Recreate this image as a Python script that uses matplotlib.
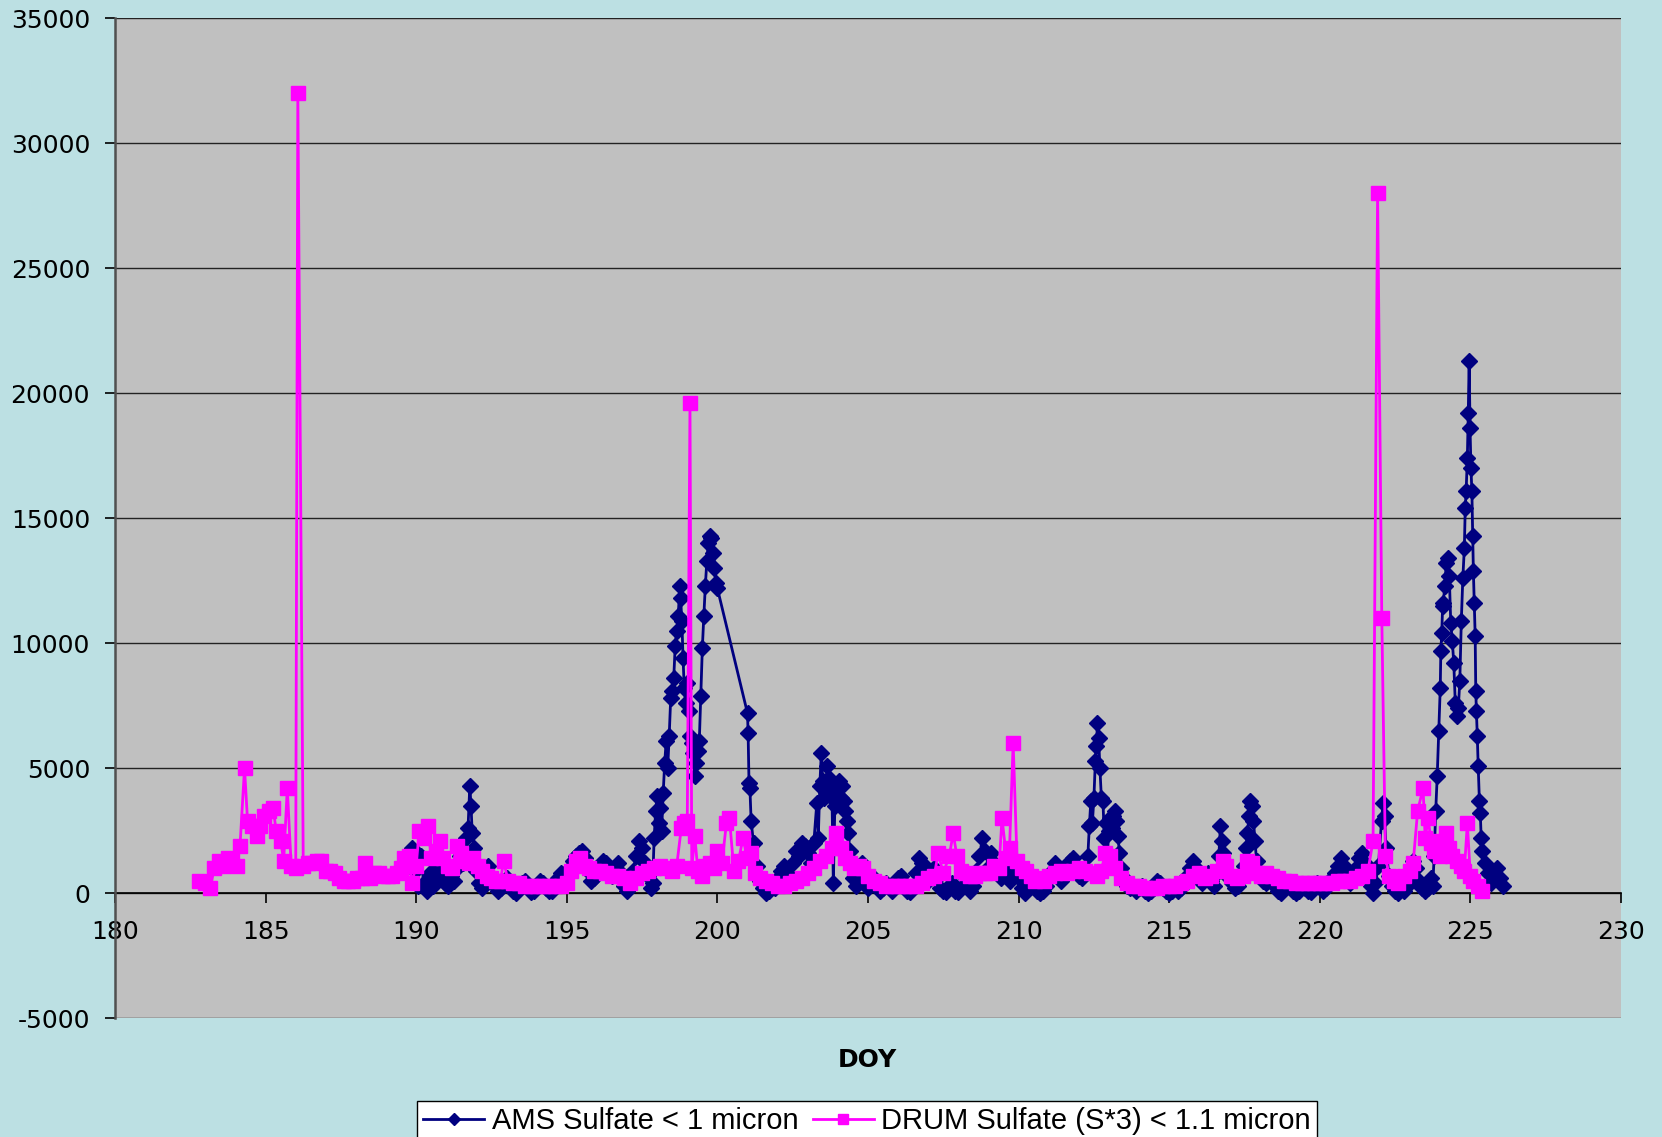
import matplotlib
matplotlib.use("Agg")
import matplotlib.pyplot as plt
from matplotlib import font_manager

# ---------------- data ----------------
ams_doy = [
    189.85, 189.95, 190.05, 190.15, 190.25, 190.35, 190.45, 190.55, 190.65, 190.75, 190.85, 190.95,
    191.05, 191.15, 191.25, 191.35, 191.45, 191.55, 191.65, 191.72, 191.78, 191.82, 191.86, 191.92,
    192.0, 192.1, 192.2, 192.3, 192.4, 192.5, 192.6, 192.7, 192.8, 192.9,
    193.0, 193.1, 193.2, 193.3, 193.4, 193.5, 193.6, 193.7, 193.8, 193.9,
    194.0, 194.1, 194.2, 194.3, 194.4, 194.5, 194.6, 194.7, 194.8, 194.9,
    195.0, 195.1, 195.2, 195.3, 195.4, 195.5, 195.6, 195.7, 195.8, 195.9,
    196.0, 196.1, 196.2, 196.3, 196.4, 196.5, 196.6, 196.7, 196.8, 196.9,
    197.0, 197.1, 197.2, 197.3, 197.4, 197.5, 197.6, 197.7, 197.8, 197.85, 197.9, 197.95,
    198.0, 198.05, 198.1, 198.15, 198.2, 198.25, 198.3, 198.35, 198.4, 198.45, 198.5, 198.55,
    198.6, 198.65, 198.7, 198.75, 198.78, 198.82, 198.86, 198.9, 198.95,
    199.0, 199.05, 199.1, 199.15, 199.2, 199.25, 199.3, 199.35, 199.4, 199.45, 199.5, 199.55,
    199.6, 199.65, 199.7, 199.75, 199.8, 199.85, 199.9, 199.95, 200.0,
    201.0, 201.02, 201.05, 201.08, 201.12, 201.2, 201.3, 201.4, 201.5, 201.6, 201.7, 201.8, 201.9,
    202.0, 202.1, 202.2, 202.3, 202.4, 202.5, 202.6, 202.7, 202.8, 202.9,
    203.0, 203.1, 203.2, 203.3, 203.35, 203.4, 203.45, 203.5, 203.55, 203.6, 203.65, 203.7,
    203.75, 203.8, 203.85, 203.9, 203.95, 204.0, 204.05, 204.1, 204.15, 204.2, 204.25, 204.3,
    204.35, 204.4, 204.45, 204.5, 204.6, 204.7, 204.8, 204.9,
    205.0, 205.1, 205.2, 205.3, 205.4, 205.5, 205.6, 205.7, 205.8, 205.9,
    206.0, 206.1, 206.2, 206.3, 206.4, 206.5, 206.6, 206.7, 206.8, 206.9,
    207.0, 207.1, 207.2, 207.3, 207.4, 207.5, 207.6, 207.7, 207.8, 207.9,
    208.0, 208.1, 208.2, 208.3, 208.4, 208.5, 208.6, 208.7, 208.8, 208.9,
    209.0, 209.1, 209.2, 209.3, 209.4, 209.5, 209.6, 209.7, 209.8, 209.9,
    210.0, 210.1, 210.2, 210.3, 210.4, 210.5, 210.6, 210.7, 210.8, 210.9,
    211.0, 211.1, 211.2, 211.3, 211.4, 211.5, 211.6, 211.7, 211.8, 211.9,
    212.0, 212.1, 212.2, 212.3, 212.35, 212.4, 212.45, 212.5, 212.55, 212.58, 212.62, 212.66,
    212.7, 212.75, 212.8, 212.85, 212.9, 212.95, 213.0, 213.05, 213.1, 213.15, 213.2, 213.25,
    213.3, 213.35, 213.4, 213.5, 213.6, 213.7, 213.8, 213.9,
    214.0, 214.1, 214.2, 214.3, 214.4, 214.5, 214.6, 214.7, 214.8, 214.9,
    215.0, 215.1, 215.2, 215.3, 215.4, 215.5, 215.6, 215.7, 215.8, 215.9,
    216.0, 216.1, 216.2, 216.3, 216.4, 216.5, 216.6, 216.65, 216.7, 216.75, 216.8, 216.9,
    217.0, 217.1, 217.2, 217.3, 217.4, 217.5, 217.55, 217.6, 217.65, 217.7, 217.75, 217.8,
    217.85, 217.9, 218.0, 218.1, 218.2, 218.3, 218.4, 218.5, 218.6, 218.7, 218.8, 218.9,
    219.0, 219.1, 219.2, 219.3, 219.4, 219.5, 219.6, 219.7, 219.8, 219.9,
    220.0, 220.1, 220.2, 220.3, 220.4, 220.5, 220.6, 220.7, 220.8, 220.9,
    221.0, 221.1, 221.2, 221.3, 221.4, 221.5, 221.6, 221.7, 221.78, 221.85, 221.95,
    222.05, 222.1, 222.15, 222.2, 222.3, 222.4, 222.5, 222.6, 222.7, 222.8, 222.9,
    223.0, 223.1, 223.2, 223.3, 223.4, 223.5, 223.6, 223.7, 223.75, 223.8, 223.85, 223.9, 223.95,
    224.0, 224.02, 224.05, 224.08, 224.1, 224.15, 224.2, 224.25, 224.3, 224.35, 224.4, 224.45,
    224.5, 224.55, 224.6, 224.65, 224.7, 224.75, 224.8, 224.83, 224.86, 224.9, 224.93, 224.96,
    224.99, 225.02, 225.05, 225.08, 225.1, 225.13, 225.16, 225.18, 225.2, 225.23, 225.26, 225.3,
    225.33, 225.36, 225.4, 225.5, 225.6, 225.7, 225.8, 225.9, 226.0, 226.1,
]
ams_val = [
    1800, 900, 300, 1500, 400, 100, 800, 300, 1200, 600, 900, 400,
    300, 700, 500, 1000, 1500, 1200, 2200, 2600, 4300, 3500, 2400, 1800,
    900, 400, 200, 800, 1100, 600, 300, 100, 200, 400,
    600, 300, 100, 0, 200, 400, 500, 200, 50, 100,
    300, 500, 400, 200, 100, 100, 300, 600, 800, 500,
    700, 1000, 1300, 1500, 1600, 1700, 1400, 900, 500, 600,
    900, 1100, 1300, 1200, 900, 700, 1000, 1200, 800, 300,
    100, 500, 900, 1500, 2100, 1800, 1200, 700, 200, 400, 2200, 3300,
    3900, 2800, 3400, 2500, 4000, 5200, 6100, 5000, 6300, 7800, 8100, 8600,
    9900, 10500, 11100, 12300, 11800, 10900, 9400, 8200, 7600,
    8400, 7300, 6300, 6000, 5600, 4700, 5200, 5700, 6100, 7900, 9800, 11100,
    12300, 13300, 14000, 14300, 14200, 13600, 13000, 12400, 12200,
    7200, 6400, 4400, 4200, 2900, 2000, 1100, 500, 200, 0, 100, 300, 200,
    600, 900, 1100, 800, 600, 1200, 1700, 1500, 2000, 1900,
    1600, 1200, 2000, 3600, 2200, 4300, 5600, 4500, 3800, 4200, 5100, 4600,
    3900, 4200, 400, 3500, 4000, 3600, 4500, 3800, 4300, 3700, 3300, 2900,
    2400, 1700, 1200, 600, 300, 800, 1200, 600,
    200, 400, 600, 300, 100, 200, 400, 300, 100, 300,
    600, 700, 400, 100, 50, 200, 800, 1400, 1200, 900,
    500, 700, 1000, 600, 200, 100, 50, 200, 400, 100,
    50, 200, 700, 400, 100, 300, 900, 1500, 2200, 1700,
    1000, 1600, 1200, 800, 600, 1000, 700, 500, 800, 1000,
    600, 200, 0, 200, 500, 300, 100, 0, 100, 300,
    600, 900, 1200, 900, 500, 700, 1100, 1300, 1400, 1000,
    700, 600, 900, 1500, 2700, 3700, 2800, 3800, 5300, 5900, 6800, 6200,
    5000, 3800, 3700, 2200, 2800, 1600, 2500, 3000, 2600, 3100, 3300, 2900,
    2300, 1600, 1000, 600, 300, 200, 300, 100,
    200, 300, 100, 0, 100, 200, 500, 400, 200, 100,
    0, 100, 300, 100, 200, 400, 700, 1000, 1300, 1000,
    700, 400, 600, 800, 500, 300, 800, 1500, 2700, 2100, 1600, 900,
    600, 400, 200, 300, 600, 1100, 1800, 2400, 3100, 3700, 3500, 2900,
    2100, 1300, 700, 500, 400, 600, 500, 300, 100, 0, 200, 400,
    300, 100, 0, 100, 300, 200, 100, 50, 200, 400,
    300, 100, 200, 400, 600, 800, 1100, 1400, 1100, 700,
    400, 600, 1000, 1400, 1600, 1200, 800, 300, 0, 400, 1100,
    2900, 3600, 3100, 1800, 700, 300, 100, 0, 200, 100, 300,
    800, 1300, 1000, 500, 200, 100, 200, 600, 300, 1500, 3300, 4700, 6500,
    8200, 9700, 10400, 11500, 11600, 12300, 13200, 13400, 12700, 10800, 10100, 9200,
    7600, 7100, 7400, 8500, 10900, 12600, 13800, 15400, 16100, 17400, 19200, 21300,
    18600, 17000, 16100, 14300, 12900, 11600, 10300, 8100, 7300, 6300, 5100, 3700,
    3200, 2200, 1700, 1200, 800, 400, 900, 1000, 600, 300,
]

drum_doy = [
    182.8, 183.0, 183.15, 183.3, 183.45, 183.6, 183.75, 183.9, 184.05, 184.15, 184.3, 184.4,
    184.55, 184.7, 184.8, 184.95, 185.1, 185.25, 185.35, 185.5, 185.6, 185.72, 185.85, 186.0,
    186.07, 186.25, 186.4, 186.55, 186.7, 186.85, 187.0, 187.15, 187.3, 187.45, 187.6, 187.75,
    187.9, 188.05, 188.2, 188.3, 188.45, 188.6, 188.75, 188.9, 189.05, 189.2, 189.35, 189.5,
    189.6, 189.75, 189.85, 190.0, 190.1, 190.25, 190.4, 190.5, 190.65, 190.8, 190.9, 191.05,
    191.2, 191.35, 191.5, 191.6, 191.75, 191.9, 192.05, 192.2, 192.35, 192.5, 192.65, 192.8,
    192.9, 193.05, 193.2, 193.4, 193.6, 193.8, 194.0, 194.2, 194.4, 194.6, 194.8, 195.0,
    195.15, 195.3, 195.45, 195.6, 195.75, 195.9, 196.1, 196.3, 196.5, 196.7, 196.9, 197.1,
    197.3, 197.5, 197.7, 197.9, 198.1, 198.3, 198.5, 198.65, 198.8, 198.9, 199.0, 199.09,
    199.15, 199.25, 199.35, 199.5, 199.6, 199.75, 199.9, 200.0, 200.15, 200.3, 200.4, 200.55,
    200.7, 200.85, 201.0, 201.1, 201.25, 201.4, 201.6, 201.8, 202.0, 202.2, 202.4, 202.6,
    202.8, 203.0, 203.2, 203.4, 203.6, 203.8, 203.95, 204.1, 204.25, 204.4, 204.55, 204.7,
    204.85, 205.0, 205.2, 205.4, 205.6, 205.8, 206.0, 206.2, 206.4, 206.6, 206.8, 207.0,
    207.2, 207.33, 207.5, 207.7, 207.83, 207.95, 208.1, 208.25, 208.4, 208.55, 208.7, 208.9,
    209.05, 209.2, 209.35, 209.45, 209.6, 209.7, 209.82, 209.95, 210.1, 210.25, 210.4, 210.55,
    210.7, 210.85, 211.0, 211.2, 211.4, 211.6, 211.8, 212.0, 212.2, 212.4, 212.6, 212.75,
    212.87, 213.05, 213.2, 213.4, 213.6, 213.8, 214.0, 214.2, 214.4, 214.6, 214.8, 215.0,
    215.2, 215.4, 215.6, 215.8, 216.0, 216.2, 216.4, 216.6, 216.8, 216.9, 217.05, 217.25,
    217.45, 217.6, 217.75, 217.9, 218.05, 218.2, 218.4, 218.6, 218.8, 219.0, 219.2, 219.4,
    219.6, 219.8, 220.0, 220.2, 220.4, 220.6, 220.8, 221.0, 221.2, 221.4, 221.6, 221.77,
    221.92, 222.06, 222.18, 222.3, 222.45, 222.6, 222.8, 223.0, 223.1, 223.25, 223.43, 223.5,
    223.6, 223.7, 223.8, 223.9, 224.0, 224.1, 224.2, 224.3, 224.4, 224.55, 224.7, 224.8,
    224.9, 225.0, 225.1, 225.25, 225.4,
]
drum_val = [
    500, 400, 200, 1000, 1300, 1100, 1400, 1300, 1100, 1900, 5000, 2900,
    2700, 2300, 2700, 3100, 3300, 3400, 2500, 2100, 1300, 4200, 1100, 1000,
    32000, 1100, 1200, 1200, 1300, 1300, 900, 900, 800, 600, 500, 500,
    500, 600, 600, 1200, 600, 800, 800, 700, 700, 700, 800, 1000,
    1400, 1500, 400, 1100, 2500, 2200, 2700, 1400, 1700, 2100, 1400, 1100,
    1000, 1900, 1600, 1300, 1200, 1400, 1100, 900, 700, 600, 500, 500,
    1300, 500, 400, 400, 300, 300, 300, 300, 300, 300, 300, 400,
    900, 1300, 1400, 1100, 1000, 900, 900, 800, 700, 700, 600, 400,
    600, 800, 900, 1000, 1100, 1000, 900, 1100, 2600, 2800, 2900, 19600,
    1000, 2300, 900, 700, 1100, 1200, 1000, 1700, 1200, 2800, 3000, 900,
    1300, 2200, 1400, 1600, 800, 600, 500, 400, 300, 300, 400, 500,
    600, 800, 1000, 1300, 1500, 1800, 2400, 1800, 1400, 1200, 1000, 1100,
    1000, 700, 500, 400, 300, 300, 300, 300, 300, 300, 400, 600,
    700, 1600, 800, 1500, 2400, 1500, 900, 800, 700, 700, 800, 800,
    800, 1100, 1000, 3000, 1400, 1800, 6000, 1300, 1000, 900, 700, 500,
    600, 500, 700, 800, 900, 800, 900, 1000, 900, 800, 700, 900,
    1600, 1500, 1000, 600, 400, 300, 300, 200, 200, 200, 300, 300,
    300, 400, 500, 700, 800, 600, 700, 900, 1300, 1100, 700, 600,
    700, 1300, 1200, 800, 700, 800, 700, 600, 500, 500, 400, 400,
    400, 400, 400, 400, 400, 500, 500, 500, 600, 700, 900, 2100,
    28000, 11000, 1500, 700, 500, 400, 700, 900, 1200, 3300, 4200, 2200,
    3000, 2000, 1700, 2100, 1500, 1600, 2400, 1800, 1500, 1300, 1100, 900,
    2800, 700, 500, 300, 100,
]

x_ticks = [180, 185, 190, 195, 200, 205, 210, 215, 220, 225, 230]
y_ticks = [-5000, 0, 5000, 10000, 15000, 20000, 25000, 30000, 35000]
x_label = "DOY"
ams_label = "AMS Sulfate < 1 micron"
drum_label = "DRUM Sulfate (S*3) < 1.1 micron"

# ---------------- style ----------------
bg = "#BCE0E3"
plot_bg = "#C0C0C0"
ams_color = "#000080"
drum_color = "#FF00FF"

names = {f.name for f in font_manager.fontManager.ttflist}
legend_font = "Liberation Sans" if "Liberation Sans" in names else "DejaVu Sans"

plt.rcParams["font.family"] = ["DejaVu Sans"]

fig = plt.figure(figsize=(16.62, 11.37), dpi=100, facecolor=bg)
ax = fig.add_axes([0.0692, 0.1044, 0.9061, 0.8795])
ax.set_facecolor(plot_bg)

ax.plot(ams_doy, ams_val, color=ams_color, lw=2.0, marker="D", ms=8,
        mec=ams_color, mfc=ams_color, label=ams_label, zorder=3)
ax.plot(drum_doy, drum_val, color=drum_color, lw=2.0, marker="s", ms=9.5,
        mec=drum_color, mfc=drum_color, label=drum_label, zorder=4)

ax.set_xlim(180, 230)
ax.set_ylim(-5000, 35000)
ax.set_xticks(x_ticks)
ax.set_yticks(y_ticks)
ax.set_xticklabels([str(v) for v in x_ticks])
ax.set_yticklabels([str(v) for v in y_ticks])

ax.grid(axis="y", color="#222222", lw=1.0, zorder=1)
ax.set_axisbelow(True)

for s in ["top", "right"]:
    ax.spines[s].set_visible(False)
ax.spines["bottom"].set_position(("data", 0))
ax.spines["bottom"].set_color("black")
ax.spines["bottom"].set_linewidth(1.2)
ax.spines["bottom"].set_zorder(2)
ax.spines["left"].set_color("#505050")
ax.spines["left"].set_linewidth(1.8)

ax.tick_params(axis="x", direction="out", length=7, width=1.2, pad=12,
               labelsize=18, colors="black")
ax.tick_params(axis="y", direction="out", length=7, width=1.2, pad=11,
               labelsize=18, colors="black")

fig.text(0.5217, 1 - 1060 / 1137, x_label, ha="center", va="center",
         fontsize=18, fontweight="bold")

leg = fig.legend(loc="upper center", bbox_to_anchor=(0.5217, 1 - 1101 / 1137),
                 ncol=2, frameon=True, fancybox=False, framealpha=1,
                 edgecolor="black", facecolor="white", handlelength=2.1,
                 handletextpad=0.25, columnspacing=0.5, borderpad=0.2,
                 borderaxespad=0.0,
                 prop={"family": legend_font, "size": 21}, markerscale=0.8)
leg.get_frame().set_linewidth(1.0)

fig.savefig("out.png", dpi=100, facecolor=bg)
